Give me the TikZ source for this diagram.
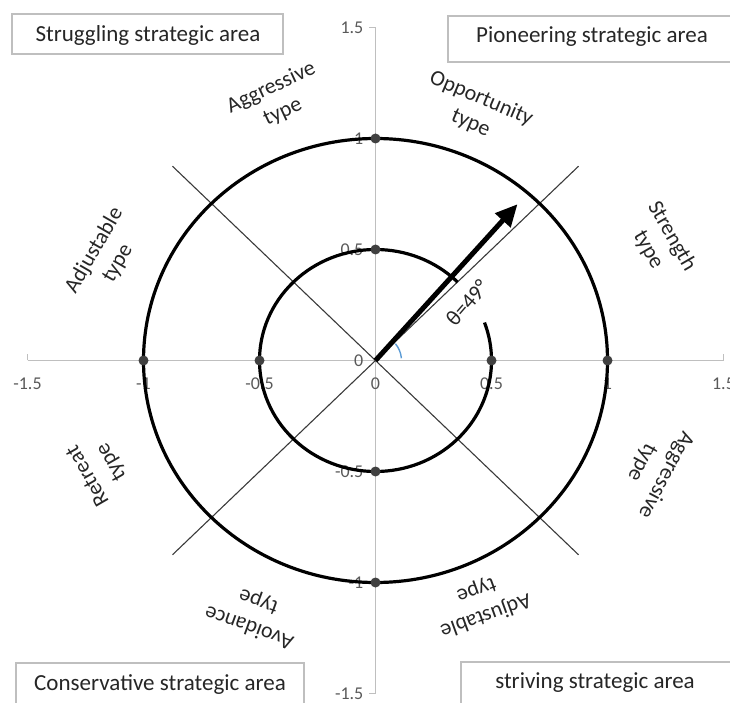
\documentclass[tikz,border=0pt]{standalone}
\usepackage{fontspec}
\setmainfont{Carlito}
\usetikzlibrary{arrows.meta}

\definecolor{axisgray}{HTML}{BFBFBF}
\definecolor{ticktext}{HTML}{595959}
\definecolor{dotgray}{HTML}{404040}
\definecolor{diaggray}{HTML}{3A3A3A}
\definecolor{anglblue}{HTML}{5B9BD5}
\definecolor{labeltext}{HTML}{262626}

\tikzset{
  axisline/.style={draw=axisgray, line width=1.4pt},
  diagline/.style={draw=diaggray, line width=1.1pt},
  ring/.style={draw=black, line width=3.2pt},
  marker/.style={fill=dotgray},
  vector/.style={draw=black, line width=5pt, -{Triangle[length=22pt,width=20pt]}},
  xlab/.style={anchor=base, text=ticktext, font=\fontsize{18}{20}\selectfont, inner sep=0pt, yshift=-29pt},
  ylab/.style={anchor=base east, text=ticktext, font=\fontsize{18}{20}\selectfont, inner sep=0pt, xshift=-12pt, yshift=-6pt},
  typelabel/.style={align=center, text=labeltext, font=\fontsize{22}{27}\selectfont, inner sep=0pt},
  areatext/.style={text=labeltext, font=\fontsize{23}{27}\selectfont, inner sep=0pt},
  areaframe/.style={draw=axisgray, line width=1.5pt},
}

\begin{document}
\begin{tikzpicture}[x=1pt,y=1pt]
\useasboundingbox (0,0) rectangle (730,702);

% strategic area frames
\node[areaframe, minimum width=271pt, minimum height=40pt, inner sep=0pt] (struggle) at (147.5,668) {};
\node[areatext] (struggletxt) at (148,667) {Struggling strategic area};
\draw[areaframe] (731,686) -- (448,686) -- (448,640) -- (731,640);
\node[areatext] (pioneertxt) at (592,665) {Pioneering strategic area};
\draw[areaframe] (16,-1) -- (16,39) -- (304,39) -- (304,-1);
\node[areatext] (conservtxt) at (160,17) {Conservative strategic area};
\draw[areaframe] (461,-1) -- (461,40) -- (731,40);
\node[areatext] (strivetxt) at (595,19) {striving strategic area};

% polar chart in data units
\begin{scope}[shift={(375.5pt,341.5pt)}, x=232pt, y=222pt]
  \coordinate (O) at (0,0);
  \coordinate (xmin) at (-1.5,0);
  \coordinate (xmax) at (1.5,0);
  \coordinate (ymin) at (0,-1.5);
  \coordinate (ymax) at (0,1.5);
  \coordinate (dUL) at (-0.875,0.875);
  \coordinate (dLR) at (0.875,-0.875);
  \coordinate (dUR) at (0.875,0.875);
  \coordinate (dLL) at (-0.875,-0.875);
  \coordinate (tip) at (49:0.933);
  \coordinate (innerstart) at (45:0.5);

  % axes with ticks
  \draw[axisline] (xmin) -- (xmax);
  \draw[axisline] (ymin) -- (ymax);
  \foreach \t in {-1.5,-1,-0.5,0.5,1,1.5} {
    \draw[axisline] (\t,0) -- ++(0pt,6pt);
    \draw[axisline] (0,\t) -- ++(-7pt,0pt);
  }

  % tick labels
  \foreach \t [count=\i] in {-1.5,-1,-0.5,0,0.5,1,1.5} {
    \node[xlab] (xl\i) at (\t,0) {\t};
    \node[ylab] (yl\i) at (0,\t) {\t};
  }

  % diagonals
  \draw[diagline] (dUL) -- (dLR);
  \draw[diagline] (dLL) -- (dUR);

  % circles
  \draw[ring] (O) ellipse [x radius=232pt, y radius=222pt];
  \draw[ring] (innerstart) arc [start angle=45, end angle=380, x radius=116pt, y radius=111pt];

  % axis markers
  \foreach \p in {(1,0),(-1,0),(0,1),(0,-1),(0.5,0),(-0.5,0),(0,0.5),(0,-0.5)} {
    \fill[marker] \p circle [radius=5pt];
  }

  % angle marker and direction vector
  \draw[anglblue, line width=1.4pt] ([shift={(5:26pt)}]O) arc [start angle=5, end angle=40, radius=26pt];
  \draw[vector] (O) -- (tip);
\end{scope}

\node[typelabel, rotate=49] (theta) at (467,399) {θ=49°};

% type labels around the ring
\node[typelabel, rotate=25] (aggr1) at (277,602) {Aggressive\\type};
\node[typelabel, rotate=-23] (oppo) at (476,591) {Opportunity\\type};
\node[typelabel, rotate=-60] (stren) at (660,459) {Strength\\type};
\node[typelabel, rotate=60] (adj1) at (106,445) {Adjustable\\type};
\node[typelabel, rotate=120] (retr) at (100,233) {Retreat\\type};
\node[typelabel, rotate=160] (avoid) at (254,88) {Avoidance\\type};
\node[typelabel, rotate=200] (adj2) at (481,99) {Adjustable\\type};
\node[typelabel, rotate=242] (aggr2) at (654,233) {Aggressive\\type};
\end{tikzpicture}
\end{document}
